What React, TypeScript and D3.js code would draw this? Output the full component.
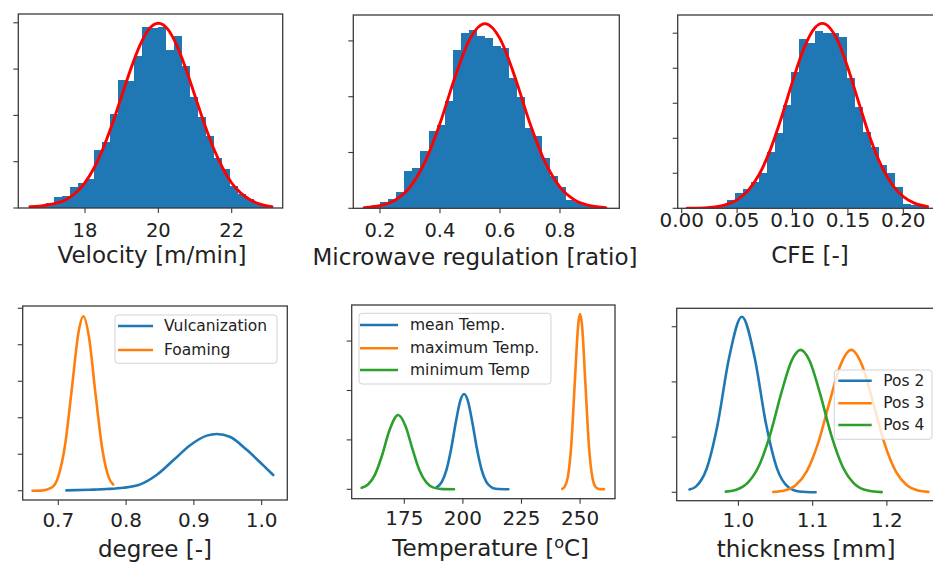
import React from "react";
import * as d3 from "d3";

// ---------- colours / fonts ----------
const BLUE = "#1f77b4";
const ORANGE = "#ff7f0e";
const GREEN = "#2ca02c";
const RED = "#ff0000";
const FONT = "'DejaVu Sans', Verdana, sans-serif";
const INK = "#222";

// ---------- data: Velocity ----------
const velocityBinStart = 16.491;
const velocityBinWidth = 0.218;
const velocityHist = [0.003, 0.005, 0.010, 0.023, 0.025, 0.045, 0.055, 0.062, 0.126, 0.142, 0.203, 0.276, 0.275, 0.329, 0.390, 0.388, 0.391, 0.341, 0.372, 0.307, 0.239, 0.196, 0.156, 0.109, 0.084, 0.048, 0.030, 0.019, 0.010, 0.004];
const velocityFitX = [16.5, 16.75, 17.0, 17.25, 17.5, 17.75, 18.0, 18.25, 18.5, 18.75, 19.0, 19.25, 19.5, 19.75, 20.0, 20.25, 20.5, 20.75, 21.0, 21.25, 21.5, 21.75, 22.0, 22.25, 22.5, 22.75, 23.0, 23.1];
const velocityFitY = [0.003, 0.004, 0.007, 0.011, 0.019, 0.033, 0.055, 0.087, 0.130, 0.183, 0.242, 0.301, 0.352, 0.387, 0.399, 0.387, 0.352, 0.301, 0.242, 0.183, 0.130, 0.087, 0.054, 0.032, 0.018, 0.009, 0.004, 0.003];
const velocityTicks = [18, 20, 22];

// ---------- data: Microwave regulation ----------
const microBinStart = 0.1467;
const microBinWidth = 0.0269;
const microHist = [0.03, 0.06, 0.12, 0.16, 0.30, 0.66, 0.72, 1.02, 1.38, 1.50, 1.92, 2.84, 3.14, 3.20, 3.08, 3.05, 2.90, 2.87, 2.34, 1.99, 1.44, 1.29, 0.90, 0.57, 0.39, 0.15, 0.12, 0.08, 0.04, 0.02];
const microFitX = [0.147, 0.2, 0.25, 0.3, 0.35, 0.4, 0.45, 0.5, 0.55, 0.6, 0.65, 0.7, 0.75, 0.8, 0.85, 0.9, 0.953];
const microFitY = [0.012, 0.047, 0.146, 0.38, 0.83, 1.52, 2.35, 3.04, 3.31, 3.04, 2.35, 1.52, 0.83, 0.38, 0.146, 0.047, 0.012];
const microTicks = [0.2, 0.4, 0.6, 0.8];

// ---------- data: CFE ----------
const cfeBinStart = 0.0051;
const cfeBinWidth = 0.00722;
const cfeHist = [0.02, 0.05, 0.07, 0.12, 0.24, 0.6, 1.07, 1.36, 1.9, 2.5, 4.05, 5.36, 7.38, 9.76, 12.07, 11.83, 12.69, 12.5, 12.5, 12.26, 9.29, 7.26, 5.48, 4.4, 3.1, 2.5, 1.55, 0.31, 0.26, 0.19];
const cfeFitX = [0.005, 0.02, 0.03, 0.04, 0.05, 0.06, 0.07, 0.08, 0.09, 0.10, 0.11, 0.12, 0.127, 0.14, 0.15, 0.16, 0.17, 0.18, 0.19, 0.20, 0.21, 0.222];
const cfeFitY = [0.006, 0.034, 0.098, 0.26, 0.60, 1.28, 2.43, 4.19, 6.48, 9.04, 11.36, 12.87, 13.2, 12.09, 10.02, 7.49, 5.04, 3.06, 1.68, 0.83, 0.37, 0.12];
const cfeTicks = [0.0, 0.05, 0.10, 0.15, 0.20];

// ---------- data: degree ----------
const vulcanX = [0.712, 0.746, 0.771, 0.796, 0.821, 0.845, 0.870, 0.894, 0.919, 0.934, 0.953, 0.978, 1.002, 1.017];
const vulcanY = [0.05, 0.14, 0.23, 0.41, 0.87, 2.15, 4.2, 6.2, 7.55, 7.77, 7.4, 5.6, 3.5, 2.15];
const foamingX = [0.662, 0.675, 0.69, 0.70, 0.71, 0.72, 0.73, 0.737, 0.745, 0.755, 0.765, 0.775, 0.781];
const foamingY = [0.0, 0.02, 0.41, 1.94, 6.26, 14.0, 21.8, 23.9, 21.2, 13.2, 5.66, 1.69, 0.85];
const degreeTicks = [0.7, 0.8, 0.9, 1.0];

// ---------- data: Temperature ----------
const meanTempX = [188.8, 191, 193, 195, 197, 199, 200.5, 202, 204, 206, 208, 210, 212, 214, 219.4];
const meanTempY = [0.002, 0.0075, 0.0196, 0.041, 0.0682, 0.0905, 0.0965, 0.0905, 0.0682, 0.041, 0.0196, 0.0075, 0.0023, 0.0005, 0.0];
const maxTempX = [242.4, 243.3, 244.8, 246.3, 247.8, 249.3, 250.0, 250.8, 252.3, 253.8, 255.3, 256.8, 258.3, 260.2];
const maxTempY = [0.0005, 0.0022, 0.0126, 0.0464, 0.1105, 0.169, 0.1774, 0.1666, 0.1057, 0.0433, 0.0114, 0.0019, 0.0002, 0.0];
const minTempX = [156.8, 159.5, 162.5, 165.5, 168.5, 172.4, 175.5, 178.5, 181.5, 184.5, 187.5, 191.5, 196.2];
const minTempY = [0.0015, 0.0048, 0.0149, 0.0342, 0.0585, 0.0752, 0.0641, 0.0407, 0.0191, 0.0067, 0.0017, 0.0002, 0.0];
const tempTicks = [175, 200, 225, 250];

// ---------- data: thickness ----------
const pos2X = [0.934, 0.943, 0.957, 0.972, 0.987, 1.0046, 1.022, 1.037, 1.052, 1.067, 1.082, 1.104];
const pos2Y = [0.25, 0.54, 2.11, 6.17, 12.06, 15.9, 12.15, 6.25, 2.15, 0.49, 0.08, 0.0];
const pos3X = [1.047, 1.062, 1.077, 1.092, 1.107, 1.122, 1.137, 1.152, 1.167, 1.182, 1.197, 1.212, 1.227, 1.242, 1.256];
const pos3Y = [0.04, 0.17, 0.64, 1.89, 4.38, 7.98, 11.44, 12.9, 11.44, 7.98, 4.38, 1.89, 0.64, 0.17, 0.04];
const pos4X = [0.983, 0.998, 1.013, 1.028, 1.043, 1.058, 1.072, 1.0838, 1.096, 1.11, 1.125, 1.14, 1.155, 1.17, 1.193];
const pos4Y = [0.06, 0.25, 0.89, 2.45, 5.3, 9.05, 11.97, 12.9, 11.9, 8.94, 5.21, 2.39, 0.86, 0.24, 0.02];
const thickTicks = [1.0, 1.1, 1.2];

// ---------- types ----------
interface Series { xs: number[]; ys: number[]; color: string; width: number; name?: string }
interface Hist { start: number; width: number; heights: number[] }
interface Legend { box: [number, number, number, number]; lineX: [number, number]; textX: number; rowY: number[] }
interface PanelCfg {
  id: string;
  frame: [number, number, number, number];
  xDomain: [number, number];
  yDomain: [number, number];
  xTicks: number[];
  xFmt: string;
  yTicks: number[];
  tickSize: number;
  tickBaseline: number;
  label: string;
  labelX: number;
  labelBaseline: number;
  hist?: Hist;
  series: Series[];
  legend?: Legend;
}

const panels: PanelCfg[] = [
  {
    id: "vel",
    frame: [18.3, 282.7, 14, 208],
    xDomain: [16.181, 23.391],
    yDomain: [0, 0.419],
    xTicks: velocityTicks, xFmt: "d",
    yTicks: [0, 0.1, 0.2, 0.3, 0.4],
    tickSize: 19.5, tickBaseline: 236.5,
    label: "Velocity [m/min]", labelX: 152, labelBaseline: 262.5,
    hist: { start: velocityBinStart, width: velocityBinWidth, heights: velocityHist },
    series: [{ xs: velocityFitX, ys: velocityFitY, color: RED, width: 2.9 }],
  },
  {
    id: "mic",
    frame: [353.3, 619.3, 15, 208.3],
    xDomain: [0.1111, 0.9977],
    yDomain: [0, 3.464],
    xTicks: microTicks, xFmt: ".1f",
    yTicks: [0, 1, 2, 3],
    tickSize: 19.5, tickBaseline: 236.5,
    label: "Microwave regulation [ratio]", labelX: 475, labelBaseline: 265,
    hist: { start: microBinStart, width: microBinWidth, heights: microHist },
    series: [{ xs: microFitX, ys: microFitY, color: RED, width: 2.9 }],
  },
  {
    id: "cfe",
    frame: [677.7, 940, 15, 208.3],
    xDomain: [-0.00361, 0.2331],
    yDomain: [0, 13.8],
    xTicks: cfeTicks, xFmt: ".2f",
    yTicks: [0, 2.5, 5, 7.5, 10, 12.5],
    tickSize: 20, tickBaseline: 226.7,
    label: "CFE [-]", labelX: 810, labelBaseline: 263,
    hist: { start: cfeBinStart, width: cfeBinWidth, heights: cfeHist },
    series: [{ xs: cfeFitX, ys: cfeFitY, color: RED, width: 2.9 }],
  },
  {
    id: "deg",
    frame: [22.7, 287.3, 306, 500],
    xDomain: [0.6475, 1.0378],
    yDomain: [-1.27, 25.31],
    xTicks: degreeTicks, xFmt: ".1f",
    yTicks: [0, 5, 10, 15, 20, 25],
    tickSize: 20, tickBaseline: 527,
    label: "degree [-]", labelX: 155, labelBaseline: 556.5,
    series: [
      { xs: vulcanX, ys: vulcanY, color: BLUE, width: 2.6, name: "Vulcanization" },
      { xs: foamingX, ys: foamingY, color: ORANGE, width: 2.6, name: "Foaming" },
    ],
    legend: { box: [115, 277, 315, 363.3], lineX: [118, 153], textX: 164, rowY: [326, 350] },
  },
  {
    id: "tmp",
    frame: [351.7, 615, 305, 498.7],
    xDomain: [152.56, 264.9],
    yDomain: [-0.0095, 0.1865],
    xTicks: tempTicks, xFmt: "d",
    yTicks: [0, 0.05, 0.1, 0.15],
    tickSize: 20, tickBaseline: 525,
    label: "Temperature",
    labelX: 490.7, labelBaseline: 555.5,
    series: [
      { xs: meanTempX, ys: meanTempY, color: BLUE, width: 2.6, name: "mean Temp." },
      { xs: maxTempX, ys: maxTempY, color: ORANGE, width: 2.6, name: "maximum Temp." },
      { xs: minTempX, ys: minTempY, color: GREEN, width: 2.6, name: "minimum Temp" },
    ],
    legend: { box: [359, 551, 313.3, 384], lineX: [360, 398], textX: 410, rowY: [325, 348.3, 370] },
  },
  {
    id: "thk",
    frame: [676.7, 940, 308.3, 500.7],
    xDomain: [0.9168, 1.2716],
    yDomain: [-0.76, 16.67],
    xTicks: thickTicks, xFmt: ".1f",
    yTicks: [0, 5, 10, 15],
    tickSize: 20, tickBaseline: 526.7,
    label: "thickness [mm]", labelX: 806, labelBaseline: 557,
    series: [
      { xs: pos2X, ys: pos2Y, color: BLUE, width: 2.6, name: "Pos 2" },
      { xs: pos3X, ys: pos3Y, color: ORANGE, width: 2.6, name: "Pos 3" },
      { xs: pos4X, ys: pos4Y, color: GREEN, width: 2.6, name: "Pos 4" },
    ],
    legend: { box: [834.3, 932, 370, 439.3], lineX: [838.3, 871.7], textX: 883.3, rowY: [380.7, 403.3, 425] },
  },
];

function Panel({ c }: { c: PanelCfg }) {
  const [l, r, t, b] = c.frame;
  const x = d3.scaleLinear().domain(c.xDomain).range([l, r]);
  const y = d3.scaleLinear().domain(c.yDomain).range([b, t]);
  const fmt = d3.format(c.xFmt);
  const clipId = `clip-${c.id}`;

  const pathFor = (s: Series) =>
    d3
      .line<[number, number]>()
      .x((d) => x(d[0]))
      .y((d) => y(d[1]))
      .curve(d3.curveMonotoneX)(s.xs.map((v, i) => [v, s.ys[i]] as [number, number])) || "";

  return (
    <g>
      <defs>
        <clipPath id={clipId}>
          <rect x={l} y={t} width={r - l} height={b - t} />
        </clipPath>
      </defs>
      <g clipPath={`url(#${clipId})`}>
        {c.hist &&
          c.hist.heights.map((h, i) => {
            const x0 = c.hist!.start + i * c.hist!.width;
            const x1 = x0 + c.hist!.width;
            return (
              <rect
                key={i}
                x={x(x0)}
                width={x(x1) - x(x0)}
                y={y(h)}
                height={y(0) - y(h)}
                fill={BLUE}
                shapeRendering="crispEdges"
              />
            );
          })}
        {c.series.map((s, i) => (
          <path
            key={i}
            d={pathFor(s)}
            fill="none"
            stroke={s.color}
            strokeWidth={s.width}
            strokeLinejoin="round"
            strokeLinecap="round"
          />
        ))}
      </g>
      <rect x={l} y={t} width={r - l} height={b - t} fill="none" stroke="#3a3a3a" strokeWidth={1.3} />
      {c.yTicks.map((v) => (
        <line key={`y${v}`} x1={l - 5} x2={l} y1={y(v)} y2={y(v)} stroke="#3a3a3a" strokeWidth={1.1} />
      ))}
      {c.xTicks.map((v) => (
        <g key={`x${v}`}>
          <line x1={x(v)} x2={x(v)} y1={b} y2={b + 5} stroke="#3a3a3a" strokeWidth={1.1} />
          <text
            x={x(v)}
            y={c.tickBaseline}
            textAnchor="middle"
            fontFamily={FONT}
            fontSize={c.tickSize}
            fill={INK}
          >
            {fmt(v)}
          </text>
        </g>
      ))}
      {c.id === "tmp" ? (
        <text x={c.labelX} y={c.labelBaseline} textAnchor="middle" fontFamily={FONT} fontSize={23} fill={INK}>
          {c.label} [<tspan dy={-8} fontSize={16}>o</tspan>
          <tspan dy={8}>C]</tspan>
        </text>
      ) : (
        <text x={c.labelX} y={c.labelBaseline} textAnchor="middle" fontFamily={FONT} fontSize={23} fill={INK}>
          {c.label}
        </text>
      )}
      {c.legend && (
        <g>
          <rect
            x={c.legend.box[0]}
            y={c.legend.box[2]}
            width={c.legend.box[1] - c.legend.box[0]}
            height={c.legend.box[3] - c.legend.box[2]}
            rx={3}
            fill="#ffffff"
            fillOpacity={0.8}
            stroke="#d3d3d3"
            strokeWidth={1}
          />
          {c.series.map((s, i) => (
            <g key={i}>
              <line
                x1={c.legend!.lineX[0]}
                x2={c.legend!.lineX[1]}
                y1={c.legend!.rowY[i]}
                y2={c.legend!.rowY[i]}
                stroke={s.color}
                strokeWidth={2.6}
              />
              <text
                x={c.legend!.textX}
                y={c.legend!.rowY[i]}
                dominantBaseline="central"
                fontFamily={FONT}
                fontSize={15.5}
                fill={INK}
              >
                {s.name}
              </text>
            </g>
          ))}
        </g>
      )}
    </g>
  );
}

export default function App() {
  return (
    <svg
      width={933}
      height={563}
      viewBox="0 0 933 563"
      style={{ position: "absolute", left: 0, top: 0, background: "#fff" }}
    >
      <rect x={0} y={0} width={933} height={563} fill="#fff" />
      {panels.map((p) => (
        <Panel key={p.id} c={p} />
      ))}
    </svg>
  );
}
